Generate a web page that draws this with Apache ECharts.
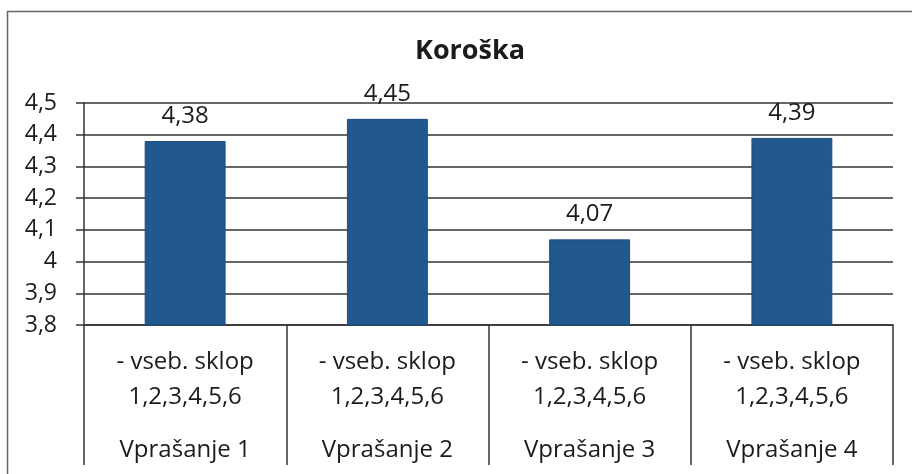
<!DOCTYPE html>
<html>
<head>
<meta charset="utf-8">
<script src="https://cdn.jsdelivr.net/npm/echarts@6/dist/echarts.min.js"></script>
<style>
  html, body { margin: 0; padding: 0; background: #fff; }
  #main { width: 912px; height: 474px; }
</style>
</head>
<body>
<div id="main"></div>
<script>
// chart data
var questions = ['Vprašanje 1', 'Vprašanje 2', 'Vprašanje 3', 'Vprašanje 4'];
var subLabels = ['- vseb. sklop\n1,2,3,4,5,6', '- vseb. sklop\n1,2,3,4,5,6', '- vseb. sklop\n1,2,3,4,5,6', '- vseb. sklop\n1,2,3,4,5,6'];
var values = [4.38, 4.45, 4.07, 4.39];
var yMin = 3.8, yMax = 4.5, yStep = 0.1;

var textColor = '#1b1b1b';
var fontName = 'Open Sans';

function comma(v){
    return String(Math.round(v * 100) / 100).replace('.', ',');
}

var myChart = echarts.init(document.getElementById('main'));
var option = {
    backgroundColor: '#fff',
    animation: false,
    title: {
        text: 'Koroška',
        left: 465,
        top: 33,
        textAlign: 'center',
        textStyle: { color: textColor, fontFamily: fontName, fontWeight: 'bold', fontSize: 27 }
    },
    graphic: [{
        type: 'rect',
        left: 5, top: 9,
        shape: { width: 1000, height: 1000 },
        style: { fill: 'none', stroke: '#666', lineWidth: 1.5 },
        silent: true
    }],
    grid: { left: 84, right: 19, top: 103, bottom: 149 },
    xAxis: {
        type: 'category',
        data: questions,
        axisLine: { lineStyle: { color: '#333', width: 1.5 } },
        axisTick: { show: true, length: 140, lineStyle: { color: '#333', width: 1.5 } },
        axisLabel: {
            margin: 20,
            interval: 0,
            formatter: function(val, idx){
                var lines = subLabels[idx].split('\n');
                return '{a|' + lines[0] + '}\n{a|' + lines[1] + '}\n{b|' + val + '}';
            },
            rich: {
                a: { fontFamily: fontName, fontSize: 24, color: textColor, lineHeight: 35 },
                b: { fontFamily: fontName, fontSize: 24, color: textColor, lineHeight: 71 }
            }
        }
    },
    yAxis: {
        type: 'value',
        min: yMin,
        max: yMax,
        interval: yStep,
        axisLine: { show: true, lineStyle: { color: '#333', width: 1.5 } },
        axisTick: { show: true, length: 8, lineStyle: { color: '#333', width: 1.5 } },
        splitLine: { lineStyle: { color: '#333', width: 1.5 } },
        axisLabel: {
            margin: 27,
            color: textColor,
            fontFamily: fontName,
            fontSize: 23,
            formatter: comma
        }
    },
    series: [{
        type: 'bar',
        data: values,
        barWidth: '40%',
        itemStyle: { color: '#21588e', borderColor: '#1d4c7c', borderWidth: 1 },
        label: {
            show: true,
            position: 'top',
            distance: 13,
            color: textColor,
            fontFamily: fontName,
            fontSize: 24,
            formatter: function(p){ return comma(p.value); }
        }
    }]
};
myChart.setOption(option);
</script>
</body>
</html>
